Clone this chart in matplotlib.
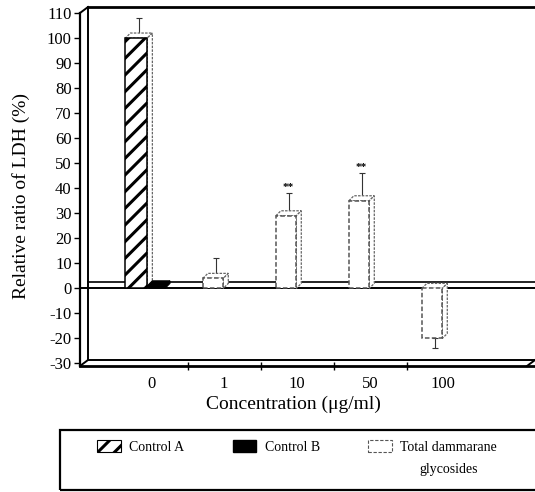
import numpy as np
import matplotlib
matplotlib.use("Agg")
import matplotlib.pyplot as plt
from matplotlib.patches import Patch, Polygon, Rectangle

plt.rcParams["font.family"] = ["Liberation Serif", "DejaVu Serif"]
plt.rcParams["hatch.linewidth"] = 2.2

# ---- data -------------------------------------------------------------
concentrations = ["0", "1", "10", "50", "100"]
control_a = [100, np.nan, np.nan, np.nan, np.nan]
control_a_err = [7, np.nan, np.nan, np.nan, np.nan]
control_b = [1, np.nan, np.nan, np.nan, np.nan]
control_b_err = [np.nan, np.nan, np.nan, np.nan, np.nan]
total_glycosides = [np.nan, 4, 29, 35, -20]
total_glycosides_err = [np.nan, 7, 8, 10, 4]
significance = ["", "", "**", "**", ""]
y_ticks = list(range(-30, 111, 10))
legend_labels = ["Control A", "Control B", "Total dammarane", "glycosides"]

# ---- figure -----------------------------------------------------------
W, H = 535, 492
fig = plt.figure(figsize=(W / 100, H / 100), dpi=100)
ax = fig.add_axes([80 / W, 1 - 366 / H, 1 - 80 / W, (366 - 13) / H])
ax.set_xlim(-0.973, 5.26)
ax.set_ylim(-31, 110)

x = np.arange(len(concentrations))


def px_to_data(px_x, px_y):
    p0 = ax.transData.transform((0, 0))
    p1 = ax.transData.transform((1, 1))
    return px_x / (p1[0] - p0[0]), px_y / (p1[1] - p0[1])


# bar depth (3-D look) and wall depth
bdx, bdy = px_to_data(5, 5)
fdx, fdy = px_to_data(8, 6)


def draw_bars(pos, vals, errs, width, face, edge, ls, hatch="",
              side_face="white", side_edge="#666666", side_ls=(0, (2, 1))):
    for xc, v, e in zip(pos, vals, errs):
        if np.isnan(v):
            continue
        x0, x1 = xc - width / 2, xc + width / 2
        top, low = max(v, 0), min(v, 0)
        # top and side faces behind the front face
        ax.add_patch(Polygon([(x0, top), (x1, top), (x1 + bdx, top + bdy),
                              (x0 + bdx, top + bdy)], closed=True,
                             facecolor=side_face, edgecolor=side_edge,
                             lw=0.9, ls=side_ls, zorder=3))
        ax.add_patch(Polygon([(x1, low), (x1, top), (x1 + bdx, top + bdy),
                              (x1 + bdx, low + bdy)], closed=True,
                             facecolor=side_face, edgecolor=side_edge,
                             lw=0.9, ls=side_ls, zorder=3))
        ax.bar(xc, v, width, color=face, edgecolor=edge, linewidth=1.1,
               linestyle=ls, hatch=hatch, zorder=4)
        if not np.isnan(e):
            ex = xc + bdx / 2
            if v >= 0:
                yerr = [[0], [e]]
                ey = v + bdy / 2
            else:
                yerr = [[e], [0]]
                ey = v
            ax.errorbar(ex, ey, yerr=yerr, fmt="none", ecolor="#333333",
                        elinewidth=0.8, capsize=2.5, capthick=0.8, zorder=2)


draw_bars(x - 0.20, control_a, control_a_err, 0.30, "white", "black", "-",
          hatch="//")
draw_bars(x + 0.07, control_b, control_b_err, 0.24, "black", "black", "-",
          side_face="black", side_edge="black", side_ls="-")
draw_bars(x - 0.15, total_glycosides, total_glycosides_err, 0.28, "white",
          "#555555", (0, (3, 1.5)))

for xc, v, e, s in zip(x - 0.15 + bdx / 2, total_glycosides,
                       total_glycosides_err, significance):
    if s:
        ax.text(xc, v + e + 1.5, s, ha="center", va="bottom", fontsize=8,
                fontweight="bold", zorder=5)

# ---- 3-D frame ----------------------------------------------------------
xmin, xmax = ax.get_xlim()
ymin, ymax = ax.get_ylim()
frame = dict(color="black", clip_on=False, zorder=1)
ax.plot([xmin + fdx, xmin + fdx], [ymin + fdy, ymax + fdy], lw=1.4, **frame)
ax.plot([xmin + fdx, xmax], [ymax + fdy, ymax + fdy], lw=2.0, **frame)
ax.plot([xmin + fdx, xmax], [ymin + fdy, ymin + fdy], lw=1.4, **frame)
ax.plot([xmin + fdx, xmax], [fdy, fdy], lw=1.2, **frame)
ax.plot([xmin, xmin + fdx], [ymin, ymin + fdy], lw=1.4, **frame)
ax.plot([xmin, xmin + fdx], [ymax, ymax + fdy], lw=1.4, **frame)
ax.plot([xmax - fdx, xmax], [ymin, ymin + fdy], lw=1.4, **frame)
ax.axhline(0, color="black", lw=1.4, zorder=1)

for side in ("top", "right"):
    ax.spines[side].set_visible(False)
ax.spines["left"].set_linewidth(1.6)
ax.spines["bottom"].set_linewidth(2.0)

ax.set_yticks(y_ticks)
ax.set_yticklabels([str(t) for t in y_ticks])
ax.tick_params(axis="y", direction="out", length=4, width=1, labelsize=12,
               pad=2)
ax.set_xticks(x)
ax.set_xticklabels(concentrations)
ax.tick_params(axis="x", which="major", length=0, labelsize=12, pad=7)
ax.set_xticks(x[:-1] + 0.5, minor=True)
ax.tick_params(axis="x", which="minor", direction="inout", length=6, width=1)

ax.set_xlabel("Concentration (\u03bcg/ml)", fontsize=14)
ax.xaxis.set_label_coords((293 - 80) / (W - 80), (366 - 396) / 353)
ax.set_ylabel("Relative ratio of LDH (%)", fontsize=14)
ax.yaxis.set_label_coords((30 - 80) / (W - 80), (366 - 196) / 353)

# ---- legend -------------------------------------------------------------
fig.patches.append(Rectangle((60 / W, 1 - 490 / H), 490 / W, 60 / H,
                             transform=fig.transFigure, fill=False,
                             edgecolor="black", lw=1.6, clip_on=False))
handles = [
    Patch(facecolor="white", edgecolor="black", hatch="//", lw=0.8),
    Patch(facecolor="black", edgecolor="black", hatch=""),
    Patch(facecolor="white", edgecolor="#555555", ls=(0, (3, 1.5)), lw=0.8),
]
leg = fig.legend(handles, legend_labels[:3], ncol=3, loc="upper left",
                 bbox_to_anchor=(97 / W, 1 - 440 / H), frameon=False,
                 fontsize=10, handlelength=1.7, handleheight=0.9,
                 handletextpad=0.6, columnspacing=3.5, borderpad=0,
                 borderaxespad=0)

# second line of the third legend label, centred under the first line
fig.canvas.draw()
bb = leg.get_texts()[2].get_window_extent()
fig.text((bb.x0 + bb.x1) / 2 / W, (bb.y0 - 9) / H, legend_labels[3],
         ha="center", va="top", fontsize=10)

fig.savefig("out.png", dpi=100)
